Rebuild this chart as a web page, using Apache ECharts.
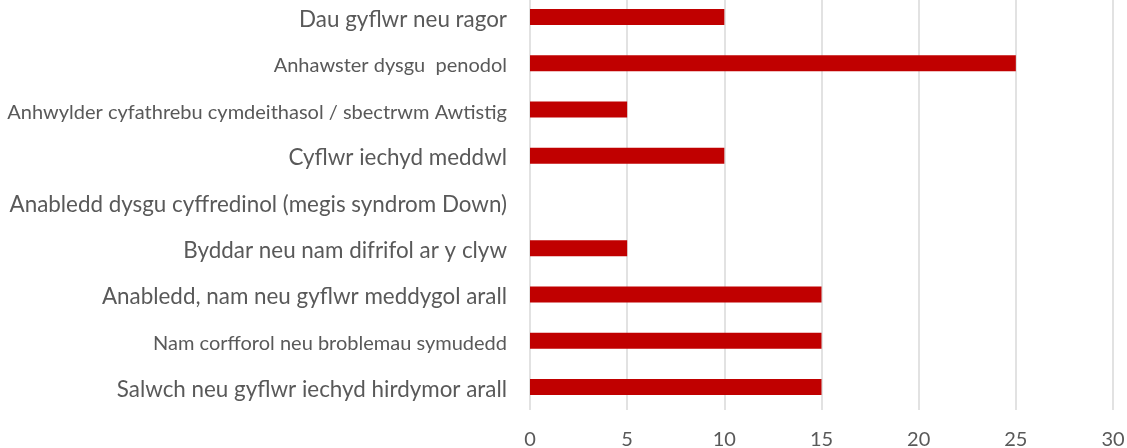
<!DOCTYPE html>
<html>
<head>
<meta charset="utf-8">
<script src="https://cdn.jsdelivr.net/npm/echarts@6/dist/echarts.min.js"></script>
<style>
    html, body { margin: 0; padding: 0; background: #fff; }
    #chart { width: 1127px; height: 448px; }
</style>
</head>
<body>
<div id="chart"></div>
<script>
// categories listed bottom to top (category axis starts at the bottom)
const categories = [
    'Salwch neu gyflwr iechyd hirdymor arall',
    'Nam corfforol neu broblemau symudedd',
    'Anabledd, nam neu gyflwr meddygol arall',
    'Byddar neu nam difrifol ar y clyw',
    'Anabledd dysgu cyffredinol (megis syndrom Down)',
    'Cyflwr iechyd meddwl',
    'Anhwylder cyfathrebu cymdeithasol / sbectrwm Awtistig',
    'Anhawster dysgu  penodol',
    'Dau gyflwr neu ragor'
]
const values = [15, 15, 15, 5, 0, 10, 5, 25, 10]
// labels drawn in a smaller font in the original
const smallLabels = [
    'Nam corfforol neu broblemau symudedd',
    'Anhwylder cyfathrebu cymdeithasol / sbectrwm Awtistig',
    'Anhawster dysgu  penodol'
]

const chartInstance = echarts.init(document.getElementById('chart'))
const option = {
    animation: false,
    grid: {
        left: 530,
        right: 14,
        top: -6,
        height: 416,
        outerBoundsMode: 'none'
    },
    xAxis: {
        type: 'value',
        min: 0,
        max: 30,
        interval: 5,
        axisLine: { show: false },
        axisTick: { show: false },
        axisLabel: {
            color: '#595959',
            fontSize: 20,
            fontFamily: 'Lato',
            margin: 20
        },
        splitLine: {
            lineStyle: { color: '#d9d9d9', width: 1.5 }
        }
    },
    yAxis: {
        type: 'category',
        data: categories,
        axisLine: { show: false },
        axisTick: { show: false },
        axisLabel: {
            margin: 23,
            formatter: (val) => smallLabels.includes(val) ? '{s|' + val + '}' : '{b|' + val + '}',
            rich: {
                b: { color: '#595959', fontSize: 22.4, fontFamily: 'Lato', padding: [5, 0, 0, 0] },
                s: { color: '#595959', fontSize: 20, fontFamily: 'Lato', padding: [5, 0, 0, 0] }
            }
        }
    },
    series: [
        {
            type: 'bar',
            data: values,
            barWidth: 16,
            itemStyle: { color: '#C00000' }
        }
    ]
}
chartInstance.setOption(option)
</script>
</body>
</html>
